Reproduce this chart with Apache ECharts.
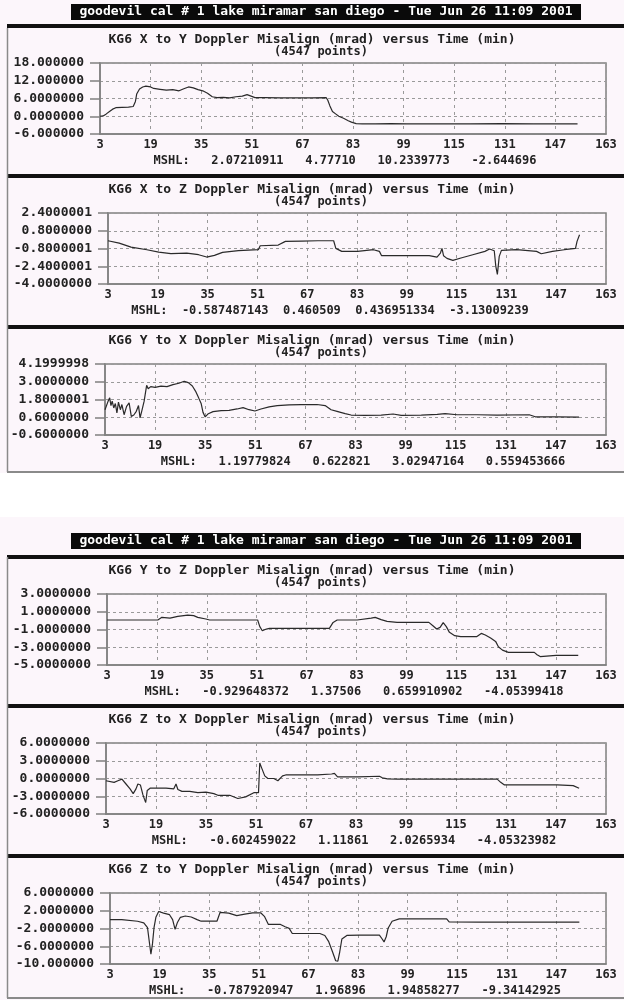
<!DOCTYPE html>
<html>
<head>
<meta charset="utf-8">
<script src="https://cdn.jsdelivr.net/npm/echarts@6/dist/echarts.min.js"></script>
<style>
html,body{margin:0;padding:0;background:#ffffff;}
#c{width:624px;height:1000px;}
</style>
</head>
<body>
<div id="c"></div>
<script>
// ---------- text ----------
const headerText = 'goodevil cal # 1 lake miramar san diego - Tue Jun 26 11:09 2001';
const pointsText = '(4547 points)';
const titles = [
  'KG6 X to Y Doppler Misalign (mrad) versus Time (min)',
  'KG6 X to Z Doppler Misalign (mrad) versus Time (min)',
  'KG6 Y to X Doppler Misalign (mrad) versus Time (min)',
  'KG6 Y to Z Doppler Misalign (mrad) versus Time (min)',
  'KG6 Z to X Doppler Misalign (mrad) versus Time (min)',
  'KG6 Z to Y Doppler Misalign (mrad) versus Time (min)'
];
const mshlTexts = [
  'MSHL:   2.07210911   4.77710   10.2339773   -2.644696',
  'MSHL:  -0.587487143  0.460509  0.436951334  -3.13009239',
  'MSHL:   1.19779824   0.622821   3.02947164   0.559453666',
  'MSHL:   -0.929648372   1.37506   0.659910902   -4.05399418',
  'MSHL:   -0.602459022   1.11861   2.0265934   -4.05323982',
  'MSHL:   -0.787920947   1.96896   1.94858277   -9.34142925'
];

// ---------- x axis ----------
const xTicks = [3, 19, 35, 51, 67, 83, 99, 115, 131, 147, 163];

// ---------- y axis ticks / labels ----------
const p1YTicks = [-6, 0, 6, 12, 18];
const p1YLabels = ['-6.000000', '0.0000000', '6.0000000', '12.000000', '18.000000'];
const p2YTicks = [-4, -2.4, -0.8, 0.8, 2.4];
const p2YLabels = ['-4.0000000', '-2.4000001', '-0.8000001', '0.8000000', '2.4000001'];
const p3YTicks = [-0.6, 0.6, 1.8, 3.0, 4.2];
const p3YLabels = ['-0.6000000', '0.6000000', '1.8000001', '3.0000000', '4.1999998'];
const p4YTicks = [-5, -3, -1, 1, 3];
const p4YLabels = ['-5.0000000', '-3.0000000', '-1.0000000', '1.0000000', '3.0000000'];
const p5YTicks = [-6, -3, 0, 3, 6];
const p5YLabels = ['-6.0000000', '-3.0000000', '0.0000000', '3.0000000', '6.0000000'];
const p6YTicks = [-10, -6, -2, 2, 6];
const p6YLabels = ['-10.000000', '-6.0000000', '-2.0000000', '2.0000000', '6.0000000'];

// ---------- series (time in min, value in mrad) ----------
const p1Time = [3,4,5,6,7,8,10,12,13.5,14.2,14.6,15.5,16.5,17.5,19,20,22,24,26,28,29.5,31,32.5,34,35.5,37,38.5,40,42,44,46,48,49.5,51,52,55,60,65,70,74.5,75,75.7,76.5,77.5,78.5,80,81.5,82.5,84,86,90,95,100,110,120,130,140,150,154];
const p1Val = [0.0,0.1,0.8,1.6,2.4,2.9,3.0,3.1,3.3,5.0,7.5,9.2,9.9,10.2,9.9,9.4,9.1,8.8,9.0,8.6,9.3,9.9,9.6,9.0,8.6,7.8,6.6,6.3,6.4,6.2,6.6,6.8,7.3,6.7,6.3,6.3,6.2,6.2,6.2,6.3,5.5,3.5,1.6,0.8,0.0,-0.7,-1.5,-2.0,-2.5,-2.6,-2.6,-2.5,-2.6,-2.6,-2.6,-2.5,-2.6,-2.6,-2.6];

const p2Time = [3,6.6,10.4,15.5,19.3,23.2,28.3,32.1,34.7,37.2,39.8,44.9,51.3,51.9,57.7,60,65.3,70.4,75.5,76.2,78.1,83.2,88.3,90.2,90.9,96,106.2,108.7,109.8,110.3,110.8,111.9,113.8,116.4,120.2,124.1,125.6,127.1,127.6,128.1,128.7,129.4,134.3,140.7,142.2,145.8,149.6,153.2,153.7,154.5];
const p2Val = [-0.10,-0.31,-0.67,-0.91,-1.12,-1.27,-1.21,-1.36,-1.57,-1.42,-1.15,-1.00,-0.91,-0.55,-0.49,-0.16,-0.13,-0.10,-0.10,-0.79,-1.06,-1.06,-0.91,-1.06,-1.45,-1.45,-1.45,-1.57,-1.21,-0.79,-1.45,-1.69,-1.87,-1.66,-1.36,-1.06,-0.85,-1.00,-2.41,-3.13,-1.51,-0.97,-0.91,-1.06,-1.27,-1.06,-0.91,-0.79,-0.16,0.44];

const p3Time = [3,4.0,4.5,4.9,5.3,5.8,6.3,6.8,7.3,7.9,8.4,9.1,9.9,10.7,11.4,12.2,13.0,13.7,14.2,14.8,15.5,16.3,16.8,17.6,19.0,20.9,22.8,24.7,26.6,28.3,29.6,30.9,31.9,32.9,33.7,34.3,35.0,36.0,37.5,40.1,42.6,45.2,47.1,49.0,50.9,52.8,55.4,58.0,61.8,65.6,70.7,73.3,75.2,77.1,79.7,81.6,86.1,91.2,95.0,97.6,104.0,109.1,111.6,115.5,121.9,128.2,138.5,140.4,147.4,154.4];
const p3Val = [1.11,1.69,1.91,1.39,1.69,1.23,1.53,0.89,1.62,1.11,1.46,0.77,1.34,1.57,0.66,0.75,1.00,1.39,0.56,1.07,1.69,2.76,2.53,2.67,2.62,2.71,2.67,2.81,2.90,3.03,2.94,2.71,2.37,1.91,1.53,0.93,0.62,0.84,0.98,1.05,1.07,1.16,1.25,1.11,1.02,1.16,1.30,1.39,1.43,1.46,1.46,1.39,1.11,1.00,0.84,0.75,0.73,0.75,0.82,0.73,0.75,0.79,0.84,0.77,0.77,0.75,0.77,0.63,0.63,0.61];

const p4Time = [3,6.6,19.3,20.6,23.2,25.7,28.9,30.8,32.1,34.7,35.9,51.3,52.0,52.8,54.1,55.1,74.3,75.5,76.8,83.2,87.7,89.0,90.9,92.8,96.0,106.2,107.5,108.7,109.8,110.8,111.8,112.8,114.5,116.4,121.5,123.0,124.3,126.0,127.6,128.5,129.8,131.7,140.0,140.9,141.9,147.0,154.1];
const p4Val = [0.07,0.07,0.07,0.37,0.29,0.48,0.63,0.56,0.37,0.18,0.07,0.07,-0.68,-1.14,-0.95,-0.87,-0.87,-0.20,0.07,0.07,0.29,0.37,0.11,-0.08,-0.20,-0.20,-0.57,-0.95,-0.76,-0.23,-0.68,-1.32,-1.70,-1.81,-1.81,-1.44,-1.62,-1.96,-2.34,-2.94,-3.32,-3.58,-3.58,-3.84,-4.05,-3.92,-3.92];

const p5Time = [3,5.6,6.8,8.1,9.4,10.7,11.7,12.6,13.2,14.0,14.8,15.3,15.7,16.2,17.1,19.6,22.2,24.7,25.4,26.0,27.3,29.8,32.4,35.0,37.5,38.8,42.6,45.2,47.7,50.3,51.8,52.2,52.8,53.8,54.8,56.7,58.0,59.5,60.5,70.7,75.2,76.1,77.1,83.5,90.5,91.4,93.1,96.3,109.1,128.2,129.3,130.5,134.6,147.4,152.5,154.4];
const p5Val = [-0.38,-0.65,-0.38,-0.11,-0.93,-1.75,-2.56,-1.75,-0.93,-1.09,-2.73,-3.49,-4.05,-2.02,-1.64,-1.64,-1.64,-1.75,-0.93,-1.85,-2.18,-2.18,-2.40,-2.29,-2.56,-2.84,-2.84,-3.38,-3.11,-2.40,-2.40,2.62,1.80,0.44,0.0,0.0,-0.38,0.44,0.60,0.60,0.76,0.87,0.27,0.27,0.38,0.11,-0.05,-0.11,-0.11,-0.11,-0.65,-1.09,-1.09,-1.09,-1.20,-1.64];

const p6Time = [3,6.8,11.9,13.9,14.5,15.1,15.7,16.2,16.7,17.2,17.8,18.7,20.3,22.2,23.2,24.0,24.7,25.7,27.3,29.2,31.1,32.4,37.5,38.5,41.3,43.9,46.5,49.0,51.6,52.8,54.1,58.0,59.5,60.8,61.8,70.7,72.3,73.5,74.8,75.8,76.5,77.1,77.8,79.4,83.5,89.9,90.8,91.4,92.1,92.7,94.0,96.3,111.6,112.4,121.9,134.6,154.4];
const p6Val = [0.01,0.01,-0.36,-0.72,-0.50,-1.82,-5.10,-7.81,-5.47,-1.82,0.52,1.84,1.47,1.11,0.01,-2.18,-0.72,0.52,0.81,0.59,0.01,-0.36,-0.36,1.62,1.47,0.89,1.25,1.54,1.54,0.74,-1.09,-1.09,-1.60,-1.96,-3.13,-3.13,-3.57,-4.89,-7.30,-9.27,-9.34,-7.30,-4.37,-3.57,-3.50,-3.50,-4.37,-5.03,-3.86,-1.96,-0.36,0.16,0.16,-0.50,-0.58,-0.58,-0.58];

// ---------- layout ----------
const panelTops = [63, 213, 364, 594, 743, 893];
const panelLefts = [100, 108, 105, 107, 106, 110];
const plotRight = 606;
const plotH = 71;
const mshlCenters = [345, 330, 363, 354, 354, 355];

const FONT = '"DejaVu Sans Mono", "Liberation Mono", monospace';
const TEXT_COLOR = '#222222';
const BOX_COLOR = '#808080';
const GRID_COLOR = '#9a9a9a';

const panels = [
  { time: p1Time, val: p1Val, yTicks: p1YTicks, yLabels: p1YLabels },
  { time: p2Time, val: p2Val, yTicks: p2YTicks, yLabels: p2YLabels },
  { time: p3Time, val: p3Val, yTicks: p3YTicks, yLabels: p3YLabels },
  { time: p4Time, val: p4Val, yTicks: p4YTicks, yLabels: p4YLabels },
  { time: p5Time, val: p5Val, yTicks: p5YTicks, yLabels: p5YLabels },
  { time: p6Time, val: p6Val, yTicks: p6YTicks, yLabels: p6YLabels }
];

const grids = [], xAxes = [], yAxes = [], series = [], graphics = [];

panels.forEach((p, i) => {
  const top = panelTops[i], left = panelLefts[i];
  grids.push({
    left: left, top: top, width: plotRight - left, height: plotH,
    show: true, borderColor: BOX_COLOR, borderWidth: 1.5, backgroundColor: 'transparent'
  });
  xAxes.push({
    type: 'value', gridIndex: i, min: xTicks[0], max: xTicks[xTicks.length - 1],
    interval: xTicks[1] - xTicks[0],
    axisLine: { show: true, onZero: false, lineStyle: { color: BOX_COLOR, width: 1.5 } },
    axisTick: { show: false, customValues: xTicks },
    axisLabel: {
      customValues: xTicks, margin: 5, color: TEXT_COLOR, fontFamily: FONT, fontWeight: 'bold', fontSize: 12,
      showMinLabel: true, showMaxLabel: true, hideOverlap: false,
      formatter: v => String(Math.round(v))
    },
    splitLine: { show: true, lineStyle: { color: GRID_COLOR, type: [3, 4], width: 1 } }
  });
  const yt = p.yTicks, yl = p.yLabels;
  yAxes.push({
    type: 'value', gridIndex: i, min: yt[0], max: yt[yt.length - 1],
    interval: yt[1] - yt[0],
    axisLine: { show: true, onZero: false, lineStyle: { color: BOX_COLOR, width: 1.5 } },
    axisTick: { show: true, length: 10, customValues: yt, lineStyle: { color: BOX_COLOR, width: 1.5 } },
    axisLabel: {
      customValues: yt, margin: 16, color: TEXT_COLOR, fontFamily: FONT, fontWeight: 'bold', fontSize: 13,
      showMinLabel: true, showMaxLabel: true, hideOverlap: false,
      formatter: function (v) {
        let best = 0, bd = Infinity;
        yt.forEach((t, k) => { const d = Math.abs(t - v); if (d < bd) { bd = d; best = k; } });
        return yl[best];
      }
    },
    splitLine: { show: true, lineStyle: { color: GRID_COLOR, type: [3, 3], width: 1 } }
  });
  series.push({
    type: 'line', xAxisIndex: i, yAxisIndex: i,
    data: p.time.map((t, k) => [t, p.val[k]]),
    showSymbol: false, symbol: 'none',
    lineStyle: { color: '#2a2a2a', width: 1.2 },
    animation: false, silent: true
  });

  // titles
  graphics.push({
    type: 'text', x: 312, y: top - 23,
    style: { text: titles[i], align: 'center', verticalAlign: 'middle', fill: TEXT_COLOR,
             font: 'bold 13px ' + FONT }
  });
  graphics.push({
    type: 'text', x: 321, y: top - 11,
    style: { text: pointsText, align: 'center', verticalAlign: 'middle', fill: TEXT_COLOR,
             font: 'bold 12px ' + FONT }
  });
  // statistics line
  graphics.push({
    type: 'text', x: mshlCenters[i], y: top + plotH + 27,
    style: { text: mshlTexts[i], align: 'center', verticalAlign: 'middle', fill: TEXT_COLOR,
             font: 'bold 12px ' + FONT }
  });
  // thick separator above each panel
  graphics.push({
    type: 'rect', shape: { x: 7, y: top - 39, width: 617, height: 4 },
    style: { fill: '#111111' }
  });
});

// gap between the two printed pages
graphics.push({ type: 'rect', z: -1, shape: { x: 0, y: 473, width: 624, height: 44 }, style: { fill: '#ffffff' } });

// page borders
[[28, 472], [557, 998]].forEach(([y0, y1]) => {
  graphics.push({ type: 'line', shape: { x1: 7.5, y1: y0, x2: 7.5, y2: y1 }, style: { stroke: '#8a8a8a', lineWidth: 1.5 } });
  graphics.push({ type: 'line', shape: { x1: 7, y1: y1, x2: 624, y2: y1 }, style: { stroke: '#8a8a8a', lineWidth: 2 } });
});

// header bars
[12, 541].forEach(cy => {
  graphics.push({ type: 'rect', shape: { x: 71, y: cy - 8, width: 510, height: 16 }, style: { fill: '#0a0a0a' } });
  graphics.push({
    type: 'text', x: 326, y: cy,
    style: { text: headerText, align: 'center', verticalAlign: 'middle', fill: '#ffffff',
             font: 'bold 13px ' + FONT }
  });
});

const chart = echarts.init(document.getElementById('c'), null, { renderer: 'canvas' });
chart.setOption({
  backgroundColor: '#fcf6fb',
  animation: false,
  grid: grids,
  xAxis: xAxes,
  yAxis: yAxes,
  series: series,
  graphic: { elements: graphics }
});
</script>
</body>
</html>
